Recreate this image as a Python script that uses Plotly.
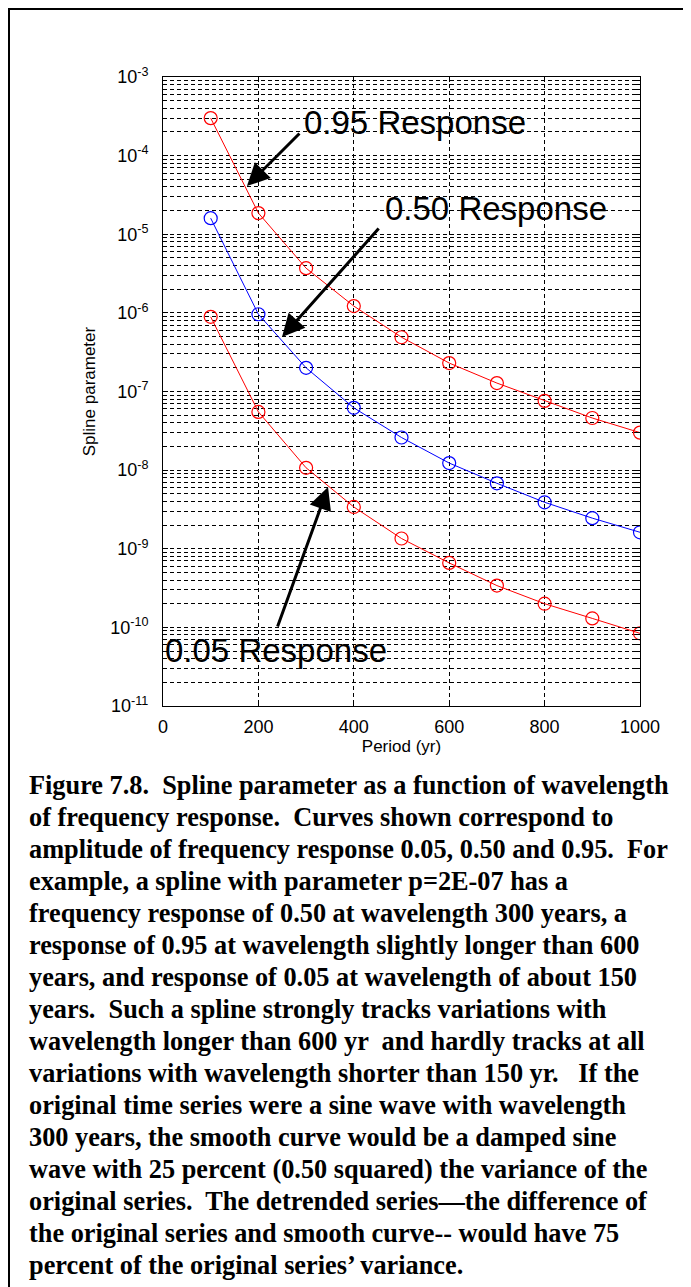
import plotly.graph_objects as go

# spline parameter vs period
periods = [100, 200, 300, 400, 500, 600, 700, 800, 900, 1000]
resp_095 = [3.0e-4, 1.86e-5, 3.7e-6, 1.22e-6, 4.9e-7, 2.3e-7, 1.28e-7, 7.6e-8, 4.6e-8, 3.0e-8]
resp_050 = [1.6e-5, 9.6e-7, 2.0e-7, 6.2e-8, 2.6e-8, 1.23e-8, 6.8e-9, 3.9e-9, 2.45e-9, 1.62e-9]
resp_005 = [8.9e-7, 5.5e-8, 1.07e-8, 3.4e-9, 1.35e-9, 6.6e-10, 3.4e-10, 2.0e-10, 1.3e-10, 8.4e-11]

x_ticks = [0, 200, 400, 600, 800, 1000]
decades = list(range(-11, -2))
y_ticks = [10.0 ** d for d in decades]
y_tick_labels = ["10<sup>%d</sup>" % d for d in decades]

caption_lines = [
    "Figure 7.8.  Spline parameter as a function of wavelength",
    "of frequency response.  Curves shown correspond to",
    "amplitude of frequency response 0.05, 0.50 and 0.95.  For",
    "example, a spline with parameter p=2E-07 has a",
    "frequency response of 0.50 at wavelength 300 years, a",
    "response of 0.95 at wavelength slightly longer than 600",
    "years, and response of 0.05 at wavelength of about 150",
    "years.  Such a spline strongly tracks variations with",
    "wavelength longer than 600 yr  and hardly tracks at all",
    "variations with wavelength shorter than 150 yr.   If the",
    "original time series were a sine wave with wavelength",
    "300 years, the smooth curve would be a damped sine",
    "wave with 25 percent (0.50 squared) the variance of the",
    "original series.  The detrended series\u2014the difference of",
    "the original series and smooth curve-- would have 75",
    "percent of the original series\u2019 variance.",
]

# the page body has an 8px margin, so the figure is 8px smaller
OFF = 8
W, H = 691 - OFF, 1287 - OFF
L, R, T, B = 163 - OFF, 51, 77 - OFF, 581
plot_w = W - L - R
plot_h = H - T - B


def paper_x(px):
    return (px - OFF - L) / plot_w


def paper_y(py):
    return (H - B - (py - OFF)) / plot_h


fig = go.Figure()
for vals, color in [(resp_095, "#ff0000"), (resp_050, "#0000ff"), (resp_005, "#ff0000")]:
    fig.add_trace(go.Scatter(
        x=periods, y=vals, mode="lines+markers",
        line=dict(color=color, width=1),
        marker=dict(symbol="circle-open", size=13, color=color, line=dict(width=1.2)),
        showlegend=False,
    ))

sans = "Liberation Sans, Arial, sans-serif"
annotations = []

# arrows: tip in data coords, tail as pixel offsets
for x, y, ax, ay in [(176, -4.387, 54, -54), (249.5, -6.308, 98, -110), (346, -8.216, -51, 141)]:
    annotations.append(dict(
        x=x, y=y, xref="x", yref="y", ax=ax, ay=ay, text="", showarrow=True,
        arrowhead=2, arrowsize=1.5, arrowwidth=3, arrowcolor="black", standoff=0,
    ))

for label, x, y in [("0.95 Response", 291, -3.573), ("0.50 Response", 461, -4.667),
                    ("0.05 Response", 0, -10.29)]:
    annotations.append(dict(
        x=x, y=y, xref="x", yref="y", text=label, showarrow=False,
        xanchor="left", yanchor="middle", font=dict(family=sans, size=33, color="black"),
    ))

for i, line in enumerate(caption_lines):
    annotations.append(dict(
        x=paper_x(27), y=paper_y(785 + 32 * i), xref="paper", yref="paper",
        text="<b>%s</b>" % line, showarrow=False, xanchor="left", yanchor="middle",
        font=dict(family="Liberation Serif, Times New Roman, serif", size=26.3, color="black"),
    ))

grid_dash = "4px,3px"
fig.update_layout(
    width=W, height=H,
    margin=dict(l=L, r=R, t=T, b=B),
    paper_bgcolor="white", plot_bgcolor="white",
    font=dict(family=sans, color="black"),
    annotations=annotations,
    shapes=[dict(
        type="rect", xref="paper", yref="paper",
        x0=paper_x(OFF + 1), x1=paper_x(689), y0=paper_y(1300), y1=paper_y(OFF + 1),
        line=dict(color="black", width=2), layer="below",
    )],
    xaxis=dict(
        range=[0, 1000], tickmode="array", tickvals=x_ticks,
        showgrid=True, gridcolor="black", gridwidth=1, griddash=grid_dash,
        showline=True, linecolor="black", linewidth=1, mirror="ticks",
        ticks="inside", ticklen=5, tickcolor="black", zeroline=False,
        tickfont=dict(size=18), ticklabelstandoff=4,
        title=dict(text="Period (yr)", font=dict(size=17), standoff=3),
    ),
    yaxis=dict(
        type="log", range=[-11, -3], tickmode="array", tickvals=y_ticks, ticktext=y_tick_labels,
        showgrid=True, gridcolor="black", gridwidth=1, griddash=grid_dash,
        showline=True, linecolor="black", linewidth=1, mirror="ticks",
        ticks="inside", ticklen=5, tickcolor="black", zeroline=False,
        tickfont=dict(size=18), ticklabelstandoff=10,
        minor=dict(dtick="D1", showgrid=True, gridcolor="black", gridwidth=1, griddash=grid_dash,
                   ticks="inside", ticklen=4, tickcolor="black"),
        title=dict(text="Spline parameter", font=dict(size=17), standoff=10),
    ),
)

fig.write_html("out.html")
